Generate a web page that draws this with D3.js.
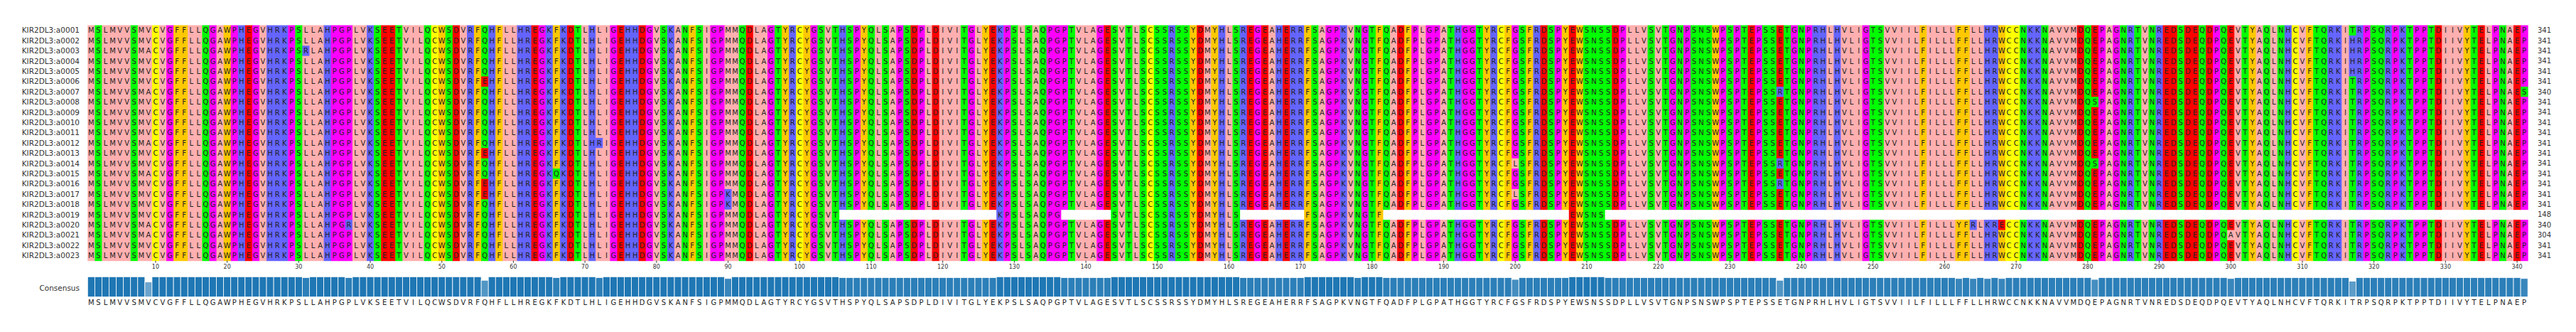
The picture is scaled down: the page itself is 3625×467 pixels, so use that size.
<!DOCTYPE html>
<html>
<head>
<meta charset="utf-8">
<script src="https://cdn.jsdelivr.net/npm/d3@7"></script>
<style>
  body { margin: 0; background: #fff; }
  text { font-family: "DejaVu Sans", sans-serif; }
</style>
</head>
<body>
<svg id="chart"></svg>
<script>
const consensus =
  "MSLMVVSMVCVGFFLLQGAWPHEGVHRKPSLLAHPGPLVKSEETVILQCWSDVRFQHFLLHREGKFKDTLHLIGEHHDGVSKANFSIGPMMQDLAGTYRCYGSVTHSPYQLSAPSDPLDIVITGLYEKPSLSAQPGPTVLAGESVTLSCSSRSSYDMYHLSREGEAHERRFSAGPKVNGTFQADFPLGPATHGGTYRCFGSFRDSPYEWSNSSDPLLVSVTGNPSNSWPSPTEPSSETGNPRHLHVLIGTSVVIILFILLLFFLLHRWCCNKKNAVVMDQEPAGNRTVNREDSDEQDPQEVTYAQLNHCVFTQRKITRPSQRPKTPPTDIIVYTELPNAEP";

const names = d3.range(1, 24).map(i => "KIR2DL3:a" + String(i).padStart(4, "0"));
const lengths = [341, 341, 341, 341, 341, 341, 340, 341, 341, 341, 341, 341, 341, 341, 341, 341, 341, 341, 148, 340, 304, 341, 341];

// substitutions per row: [row index, position (1-based), residue]
const substitutions = [
  [2, 9, "A"], [6, 9, "A"], [11, 9, "A"], [14, 9, "A"], [19, 9, "A"], [20, 9, "A"],
  [2, 31, "R"], [19, 37, "R"],
  [5, 56, "E"], [12, 56, "E"], [15, 56, "E"], [16, 56, "E"],
  [11, 72, "R"], [14, 66, "Q"], [16, 90, "K"], [17, 90, "K"],
  [6, 178, "S"], [13, 200, "L"], [16, 200, "L"],
  [6, 237, "R"], [13, 237, "R"], [15, 237, "R"],
  [7, 281, "S"], [13, 281, "S"],
  [19, 262, "Y"], [19, 264, "R"], [19, 266, "K"], [19, 268, "E"], [20, 300, "A"],
  [1, 317, "H"], [2, 317, "H"], [3, 317, "H"], [4, 317, "H"],
  [6, 341, "S"]
];
// row a0019 keeps only these residue stretches, the rest are gaps
const row19Kept = [[1, 105], [128, 136], [144, 161], [171, 181], [208, 212]];

const zappo = {
  I: "#ffafaf", L: "#ffafaf", V: "#ffafaf", A: "#ffafaf", M: "#ffafaf",
  F: "#ffc800", W: "#ffc800", Y: "#ffc800",
  K: "#6464ff", R: "#6464ff", H: "#6464ff",
  D: "#ff0000", E: "#ff0000",
  S: "#00ff00", T: "#00ff00", N: "#00ff00", Q: "#00ff00",
  P: "#ff00ff", G: "#ff00ff",
  C: "#ffff00"
};

const seqs = names.map(() => consensus.split(""));
substitutions.forEach(([r, p, a]) => { seqs[r][p - 1] = a; });
seqs[18] = seqs[18].map((a, i) => row19Kept.some(([s, e]) => i + 1 >= s && i + 1 <= e) ? a : "-");

const nCol = consensus.length;
const width = 3625, height = 467;
const leftX = 123.3, colW = 10.07, topY = 35.5, rowH = 14.4;

const x = d3.scaleBand().domain(d3.range(1, nCol + 1)).range([leftX, leftX + colW * nCol]).padding(0);
const y = d3.scaleBand().domain(names).range([topY, topY + rowH * names.length]);

const svg = d3.select("#chart").attr("width", width).attr("height", height);

const cells = [];
seqs.forEach((s, r) => s.forEach((a, i) => cells.push({ name: names[r], pos: i + 1, aa: a })));

svg.append("g").selectAll("rect").data(cells.filter(d => d.aa !== "-")).join("rect")
  .attr("x", d => x(d.pos)).attr("y", d => y(d.name))
  .attr("width", x.bandwidth() + 0.5).attr("height", y.bandwidth() + 0.5)
  .attr("fill", d => zappo[d.aa] || "#fff");

svg.append("g").selectAll("text").data(cells.filter(d => d.aa !== "-")).join("text")
  .attr("x", d => x(d.pos) + x.bandwidth() / 2).attr("y", d => y(d.name) + y.bandwidth() / 2)
  .attr("dy", "0.36em").attr("text-anchor", "middle")
  .attr("font-size", 10).attr("fill", "#222")
  .text(d => d.aa);

svg.append("g").selectAll("text").data(names).join("text")
  .attr("x", 112).attr("y", d => y(d) + y.bandwidth() / 2).attr("dy", "0.35em")
  .attr("text-anchor", "end").attr("font-size", 10.5).attr("fill", "#333")
  .text(d => d);

svg.append("g").selectAll("text").data(names).join("text")
  .attr("x", 3571).attr("y", d => y(d) + y.bandwidth() / 2).attr("dy", "0.35em")
  .attr("font-size", 10).attr("fill", "#333")
  .text((d, i) => lengths[i]);

// position axis
const axisY = topY + rowH * names.length;
const axis = d3.axisBottom(x).tickValues(d3.range(10, nCol + 1, 10)).tickSize(3).tickPadding(3);
svg.append("g").attr("transform", `translate(0,${axisY})`).call(axis)
  .call(g => g.select(".domain").remove())
  .call(g => g.selectAll("text").attr("font-size", 8).attr("fill", "#333").attr("font-family", "DejaVu Sans"))
  .call(g => g.selectAll("line").attr("stroke", "#333"));

// consensus conservation bars
const cons = d3.range(nCol).map(i => {
  const counts = d3.rollup(seqs.map(s => s[i]).filter(a => a !== "-"), v => v.length, a => a);
  return d3.max(counts.values()) / seqs.length;
});
const barTop = 389.3, barBottom = 417.7;
const h = d3.scaleLinear().domain([0, 1]).range([barBottom, barTop]);
const shade = d3.interpolateRgb("#1f77b4", "#ffffff");

svg.append("g").selectAll("rect").data(cons).join("rect")
  .attr("x", (d, i) => x(i + 1)).attr("width", x.bandwidth())
  .attr("y", d => h(d)).attr("height", d => barBottom - h(d))
  .attr("fill", d => shade(Math.min(0.9, (1 - d) * 1.3)))
  .attr("stroke", "#fff").attr("stroke-width", 0.8);

svg.append("text").attr("x", 112).attr("y", 405).attr("dy", "0.35em")
  .attr("text-anchor", "end").attr("font-size", 10.5).attr("fill", "#333").text("Consensus");

svg.append("g").selectAll("text").data(consensus.split("")).join("text")
  .attr("x", (d, i) => x(i + 1) + x.bandwidth() / 2).attr("y", 425).attr("dy", "0.35em")
  .attr("text-anchor", "middle").attr("font-size", 10).attr("fill", "#222")
  .text(d => d);
</script>
</body>
</html>
